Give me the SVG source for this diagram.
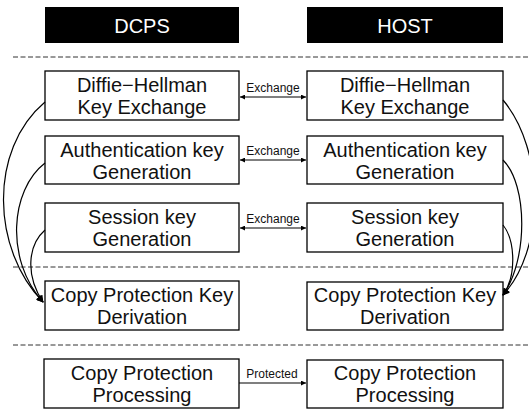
<svg xmlns="http://www.w3.org/2000/svg" width="529" height="418" viewBox="0 0 529 418">
<defs>
<style>
.box{fill:#fff;stroke:#000;stroke-width:1.3}
.hdr{fill:#000}
.t{font-family:"Liberation Sans",Arial,sans-serif;font-size:20px;fill:#111;text-anchor:middle}
.ht{font-family:"Liberation Sans",Arial,sans-serif;font-size:20px;fill:#fff;text-anchor:middle}
.lbl{font-family:"Liberation Sans",Arial,sans-serif;font-size:12px;fill:#111;text-anchor:middle}
.sep{stroke:#333;stroke-width:1;stroke-dasharray:5 2.5;fill:none}
.ln{stroke:#000;stroke-width:1.2;fill:none}
</style>
<marker id="ah" viewBox="0 0 10 10" refX="10" refY="5" markerWidth="7" markerHeight="5" markerUnits="userSpaceOnUse" orient="auto-start-reverse">
<path d="M0,0 L10,5 L0,10 Z" fill="#000"/>
</marker>
<marker id="ah2" viewBox="0 0 10 10" refX="9" refY="5" markerWidth="8" markerHeight="7" markerUnits="userSpaceOnUse" orient="auto">
<path d="M0,0 L10,5 L0,10 Z" fill="#000"/>
</marker>
</defs>
<rect width="529" height="418" fill="#fff"/>
<g id="separators">
<line class="sep" x1="13" y1="57" x2="529" y2="57"/>
<line class="sep" x1="13" y1="267" x2="529" y2="267"/>
<line class="sep" x1="13" y1="345" x2="529" y2="345"/>
</g>
<g id="hdr-dcps">
<rect class="hdr" x="45" y="7" width="194" height="36"/>
<text class="ht" x="142" y="33">DCPS</text>
</g>
<g id="hdr-host">
<rect class="hdr" x="307" y="7" width="196" height="36"/>
<text class="ht" x="405" y="33">HOST</text>
</g>
<g id="d-dh">
<rect class="box" x="45" y="71" width="194" height="49"/>
<text class="t" x="142" y="92">Diffie−Hellman</text>
<text class="t" x="142" y="114">Key Exchange</text>
</g>
<g id="d-auth">
<rect class="box" x="45" y="136" width="194" height="48"/>
<text class="t" x="142" y="157">Authentication key</text>
<text class="t" x="142" y="179">Generation</text>
</g>
<g id="d-sess">
<rect class="box" x="45" y="203" width="194" height="49"/>
<text class="t" x="142" y="224">Session key</text>
<text class="t" x="142" y="246">Generation</text>
</g>
<g id="d-cpk">
<rect class="box" x="45" y="281" width="194" height="49"/>
<text class="t" x="142" y="302">Copy Protection Key</text>
<text class="t" x="142" y="324">Derivation</text>
</g>
<g id="d-cpp">
<rect class="box" x="44" y="359" width="195" height="49"/>
<text class="t" x="142" y="380">Copy Protection</text>
<text class="t" x="142" y="402">Processing</text>
</g>
<g id="h-dh">
<rect class="box" x="307" y="71" width="196" height="49"/>
<text class="t" x="405" y="92">Diffie−Hellman</text>
<text class="t" x="405" y="114">Key Exchange</text>
</g>
<g id="h-auth">
<rect class="box" x="307" y="136" width="196" height="48"/>
<text class="t" x="405" y="157">Authentication key</text>
<text class="t" x="405" y="179">Generation</text>
</g>
<g id="h-sess">
<rect class="box" x="307" y="203" width="196" height="49"/>
<text class="t" x="405" y="224">Session key</text>
<text class="t" x="405" y="246">Generation</text>
</g>
<g id="h-cpk">
<rect class="box" x="307" y="282" width="196" height="48"/>
<text class="t" x="405" y="302">Copy Protection Key</text>
<text class="t" x="405" y="324">Derivation</text>
</g>
<g id="h-cpp">
<rect class="box" x="307" y="360" width="196" height="48"/>
<text class="t" x="405" y="380">Copy Protection</text>
<text class="t" x="405" y="402">Processing</text>
</g>
<g id="connectors">
<line class="ln" x1="240" y1="97" x2="306" y2="97" marker-start="url(#ah)" marker-end="url(#ah)"/>
<text class="lbl" x="273" y="92">Exchange</text>
<line class="ln" x1="240" y1="160" x2="306" y2="160" marker-start="url(#ah)" marker-end="url(#ah)"/>
<text class="lbl" x="273" y="155">Exchange</text>
<line class="ln" x1="240" y1="228" x2="306" y2="228" marker-start="url(#ah)" marker-end="url(#ah)"/>
<text class="lbl" x="273" y="223">Exchange</text>
<line class="ln" x1="239" y1="383" x2="306" y2="383" marker-end="url(#ah)"/>
<text class="lbl" x="272" y="378">Protected</text>
<path class="ln" d="M45,102 C-12,150 -8,250 43,302" marker-end="url(#ah2)"/>
<path class="ln" d="M45,163 C10,190 5,260 43,302" marker-end="url(#ah2)"/>
<path class="ln" d="M45,230 C28,245 25,275 43,302" marker-end="url(#ah2)"/>
<path class="ln" d="M503,100 C545,150 545,250 503,295" marker-end="url(#ah2)"/>
<path class="ln" d="M503,160 C528,185 528,260 503,295" marker-end="url(#ah2)"/>
<path class="ln" d="M503,225 C515,240 517,275 503,295" marker-end="url(#ah2)"/>
</g>
</svg>
